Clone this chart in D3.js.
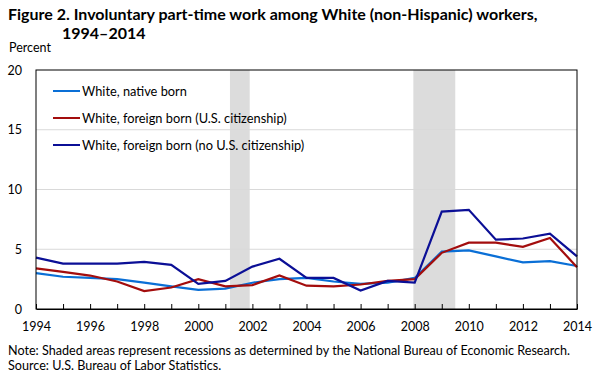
<!DOCTYPE html>
<html>
<head>
<meta charset="utf-8">
<script src="https://cdn.jsdelivr.net/npm/d3@7"></script>
<style>
  body { margin: 0; background: #fff; }
  text { font-family: Lato, "Open Sans", sans-serif; fill: #000; }
</style>
</head>
<body>
<div id="chart"></div>
<script>
// data
var years = d3.range(1994, 2015);
var native_born = [3.0, 2.7, 2.6, 2.5, 2.2, 1.9, 1.6, 1.7, 2.2, 2.5, 2.6, 2.3, 2.1, 2.2, 2.6, 4.8, 4.9, 4.4, 3.9, 4.0, 3.6];
var foreign_citizen = [3.4, 3.1, 2.8, 2.3, 1.5, 1.8, 2.5, 1.9, 2.0, 2.8, 1.95, 1.9, 2.05, 2.35, 2.5, 4.7, 5.55, 5.55, 5.2, 5.95, 3.5];
var foreign_noncitizen = [4.3, 3.8, 3.8, 3.8, 3.95, 3.7, 2.1, 2.35, 3.55, 4.2, 2.6, 2.6, 1.55, 2.35, 2.2, 8.15, 8.3, 5.8, 5.9, 6.3, 4.4];
var recessions = [[2001.17, 2001.9], [2007.95, 2009.5]];
var y_ticks = [0, 5, 10, 15, 20];

var series = [
  {name: 'White, native born', values: native_born, color: '#0a6fd6'},
  {name: 'White, foreign born (U.S. citizenship)', values: foreign_citizen, color: '#a30d0d'},
  {name: 'White, foreign born (no U.S. citizenship)', values: foreign_noncitizen, color: '#0b0f96'}
];

// margins
var margin = {top: 70, right: 22, bottom: 74, left: 36},
    width = 599 - margin.left - margin.right,
    height = 383 - margin.top - margin.bottom;

var x = d3.scaleLinear().domain([1994, 2014]).range([0, width]),
    y = d3.scaleLinear().domain([0, 20]).range([height, 0]);

var svg = d3.select('#chart').append('svg')
    .attr('width', 599)
    .attr('height', 383);

// titles
svg.append('text').attr('x', 8).attr('y', 20)
  .style('font-size', '16px').style('font-weight', 'bold')
  .text('Figure 2. Involuntary part-time work among White (non-Hispanic) workers,');
svg.append('text').attr('x', 62).attr('y', 39)
  .style('font-size', '16px').style('font-weight', 'bold')
  .text('1994\u20132014');
svg.append('text').attr('x', 9).attr('y', 52)
  .style('font-size', '12.5px').text('Percent');

var g = svg.append('g')
  .attr('transform', 'translate(' + margin.left + ',' + margin.top + ')');

// recession shading
g.selectAll('rect.rec').data(recessions).enter().append('rect')
  .attr('class', 'rec')
  .attr('x', function(d) { return x(d[0]); })
  .attr('width', function(d) { return x(d[1]) - x(d[0]); })
  .attr('y', 0).attr('height', height)
  .attr('fill', '#dcdcdc');

// gridlines
g.selectAll('line.grid').data(y_ticks.slice(1, 4)).enter().append('line')
  .attr('class', 'grid')
  .attr('x1', 0).attr('x2', width)
  .attr('y1', function(d) { return y(d); }).attr('y2', function(d) { return y(d); })
  .attr('stroke', '#d9d9d9').attr('stroke-width', 1);

// lines
var line = d3.line()
  .x(function(d, i) { return x(years[i]); })
  .y(function(d) { return y(d); });

g.selectAll('path.series').data(series).enter().append('path')
  .attr('class', 'series')
  .attr('d', function(d) { return line(d.values); })
  .attr('fill', 'none')
  .attr('stroke', function(d) { return d.color; })
  .attr('stroke-width', 2.2);

// frame
g.append('rect').attr('x', 0).attr('y', 0).attr('width', width).attr('height', height)
  .attr('fill', 'none').attr('stroke', '#000').attr('stroke-width', 1);

// x axis: ticks every year pointing inward
var x_axis = d3.axisBottom(x)
  .tickValues(years)
  .tickSizeInner(-5).tickSizeOuter(0)
  .tickFormat(function(d) { return d % 2 === 0 ? d : ''; });
var xa = g.append('g').attr('transform', 'translate(0,' + height + ')').call(x_axis);
xa.select('.domain').attr('stroke', '#000');
xa.selectAll('text').attr('y', 13).style('font-size', '12.5px')
  .style('font-family', 'Lato, sans-serif').attr('fill', '#000');

// y axis
var y_axis = d3.axisLeft(y).tickValues(y_ticks).tickSize(0).tickPadding(14);
var ya = g.append('g').call(y_axis);
ya.select('.domain').remove();
ya.selectAll('text').style('font-size', '12.5px')
  .style('font-family', 'Lato, sans-serif').attr('fill', '#000');

// legend
var legend = g.selectAll('g.legend').data(series).enter().append('g')
  .attr('class', 'legend')
  .attr('transform', function(d, i) { return 'translate(17,' + (21 + i * 27) + ')'; });
legend.append('line').attr('x1', 0).attr('x2', 27).attr('y1', 0).attr('y2', 0)
  .attr('stroke', function(d) { return d.color; }).attr('stroke-width', 2);
legend.append('text').attr('x', 29).attr('y', 4.5)
  .style('font-size', '12.8px').text(function(d) { return d.name; });

// notes
svg.append('text').attr('x', 8).attr('y', 355).style('font-size', '12.6px')
  .text('Note: Shaded areas represent recessions as determined by the National Bureau of Economic Research.');
svg.append('text').attr('x', 8).attr('y', 370).style('font-size', '12.6px')
  .text('Source: U.S. Bureau of Labor Statistics.');
</script>
</body>
</html>
